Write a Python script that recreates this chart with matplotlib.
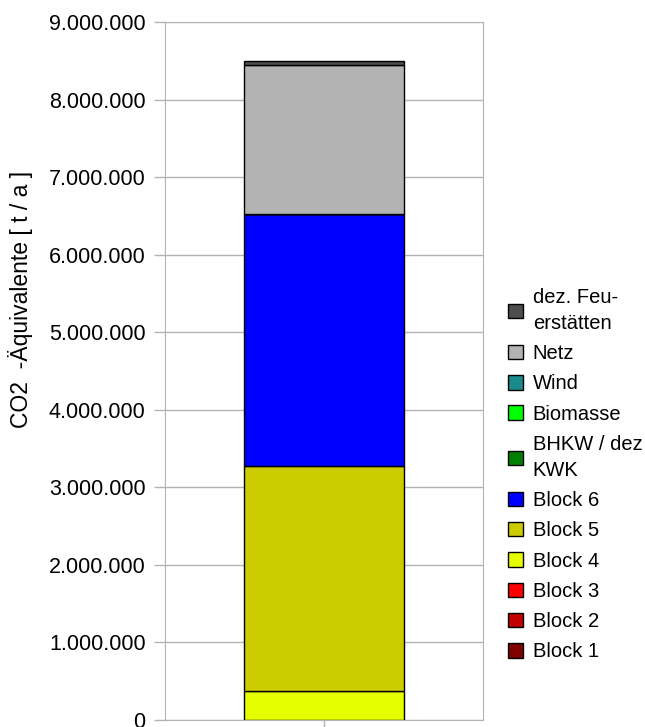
import matplotlib.pyplot as plt
from matplotlib.ticker import FuncFormatter
from matplotlib.patches import Patch

plt.rcParams['font.family'] = ['Liberation Sans', 'DejaVu Sans']

# stack order from bottom to top
labels = ['Block 1', 'Block 2', 'Block 3', 'Block 4', 'Block 5', 'Block 6',
          'BHKW / dez\nKWK', 'Biomasse', 'Wind', 'Netz', 'dez. Feu-\nerstätten']
values = [0, 0, 0, 380000, 2890000, 3260000, 0, 0, 0, 1910000, 60000]
colors = ['#7f0000', '#c00000', '#ff0000', '#e6ff00', '#cccc00', '#0000ff',
          '#007f00', '#00ff00', '#1a8a8a', '#b3b3b3', '#4d4d4d']
category = ['']

fig = plt.figure(figsize=(6.45, 7.27), dpi=100)
ax = fig.add_axes([165 / 645, 7 / 727, 318 / 645, 698 / 727])

bottom = 0
for lab, val, col in zip(labels, values, colors):
    ax.bar(0, val, width=0.503, bottom=bottom, color=col, edgecolor='black', linewidth=1, zorder=3)
    bottom += val

ax.set_xlim(-0.5, 0.5)
ax.set_ylim(0, 9000000)
ax.set_yticks(range(0, 9000001, 1000000))
ax.yaxis.set_major_formatter(FuncFormatter(lambda v, p: '{:,.0f}'.format(v).replace(',', '.')))
ax.set_xticks([0])
ax.set_xticklabels(category)
ax.grid(axis='y', color='#b3b3b3', linewidth=1, zorder=0)
for s in ax.spines.values():
    s.set_color('#b3b3b3')
ax.tick_params(axis='both', colors='#b3b3b3', labelcolor='black', labelsize=15.5, length=8, width=1, pad=6)
ax.set_ylabel('CO2  -Äquivalente [ t / a ]', fontsize=16.5)
ax.yaxis.set_label_coords(-0.415, 0.602)

handles = [Patch(facecolor=c, edgecolor='black', linewidth=1) for c in colors]
leg = fig.legend(handles[::-1], labels[::-1], loc='center left', bbox_to_anchor=(500 / 645, 0.347),
                 frameon=False, fontsize=14.5, handlelength=0.72, handleheight=0.72,
                 handletextpad=0.5, labelspacing=0.56, borderaxespad=0)
for t in leg.get_texts():
    t.set_linespacing(1.45)

fig.savefig('out.png', dpi=100)
